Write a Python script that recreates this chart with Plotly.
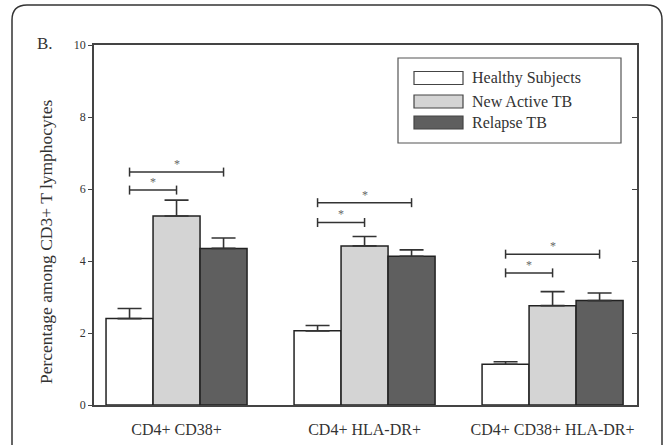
import plotly.graph_objects as go

# ---- data ----
categories = ["CD4+ CD38+", "CD4+ HLA-DR+", "CD4+ CD38+ HLA-DR+"]
series_names = ["Healthy Subjects", "New Active TB", "Relapse TB"]
healthy = [2.40, 2.06, 1.13]
healthy_err = [0.28, 0.15, 0.07]
new_active = [5.25, 4.42, 2.76]
new_active_err = [0.44, 0.26, 0.39]
relapse = [4.35, 4.13, 2.90]
relapse_err = [0.29, 0.18, 0.21]
# significance brackets: (category index, from series, to series, level)
sig_category = [0, 0, 1, 1, 2, 2]
sig_from = [0, 0, 0, 0, 0, 0]
sig_to = [1, 2, 1, 2, 1, 2]
sig_level = [5.97, 6.47, 5.07, 5.62, 3.67, 4.19]
y_ticks = [0, 2, 4, 6, 8, 10]

values = [healthy, new_active, relapse]
errors = [healthy_err, new_active_err, relapse_err]
fills = ["#ffffff", "#d4d4d4", "#5f5f5f"]

FONT = "'Liberation Serif', 'Times New Roman', 'DejaVu Serif', serif"
INK = "#333333"

W, H = 668, 445
ML, MR, MT, MB = 94, 31, 45, 40
PW, PH = W - ML - MR, H - MT - MB


def px(x):
    return (x - ML) / PW


def py(y):
    return (H - MB - y) / PH


fig = go.Figure()
xpos = list(range(len(categories)))
for name, vals, errs, col in zip(series_names, values, errors, fills):
    fig.add_trace(go.Bar(
        x=xpos, y=vals, name=name, showlegend=False,
        marker=dict(color=col, line=dict(color="#222222", width=1.5)),
        error_y=dict(type="data", array=errs, arrayminus=[0] * len(errs),
                     symmetric=False, color="#333333", thickness=1.6, width=12),
    ))

BAR_W = 0.25
shapes = []
annotations = []
for c, f, t, lvl in zip(sig_category, sig_from, sig_to, sig_level):
    x0 = c + (f - 1) * BAR_W
    x1 = c + (t - 1) * BAR_W
    ln = dict(color="#333333", width=1.5)
    shapes.append(dict(type="line", xref="x", yref="y", x0=x0, x1=x1, y0=lvl, y1=lvl, line=ln))
    for xe in (x0, x1):
        shapes.append(dict(type="line", xref="x", yref="y", x0=xe, x1=xe,
                           y0=lvl - 0.125, y1=lvl + 0.125, line=ln))
    annotations.append(dict(x=(x0 + x1) / 2, y=lvl, xref="x", yref="y", text="*",
                            showarrow=False, yanchor="bottom", yshift=-1,
                            font=dict(family=FONT, size=12, color="#666666")))

# outer rounded frame
r = 15
L, R, T, B = 12, 662, 5, 460
path = (f"M {px(L)},{py(B)} L {px(L)},{py(T + r)} Q {px(L)},{py(T)} {px(L + r)},{py(T)} "
        f"L {px(R - r)},{py(T)} Q {px(R)},{py(T)} {px(R)},{py(T + r)} L {px(R)},{py(B)}")
shapes.append(dict(type="path", xref="paper", yref="paper", path=path,
                   line=dict(color="#333333", width=1.5)))

# legend box
shapes.append(dict(type="rect", xref="paper", yref="paper", x0=px(398), x1=px(621),
                   y0=py(143), y1=py(58), line=dict(color="#555555", width=1.2),
                   fillcolor="white", layer="above"))
leg_y = [78, 101.5, 122.5]
for name, col, yc in zip(series_names, fills, leg_y):
    shapes.append(dict(type="rect", xref="paper", yref="paper", x0=px(414), x1=px(463),
                       y0=py(yc + 6.5), y1=py(yc - 6.5),
                       line=dict(color="#444444", width=1.2), fillcolor=col, layer="above"))
    annotations.append(dict(x=px(470), y=py(yc), xref="paper", yref="paper", text=name,
                            showarrow=False, xanchor="left", yanchor="middle",
                            font=dict(family=FONT, size=16, color=INK)))

annotations.append(dict(x=px(35), y=py(43), xref="paper", yref="paper", text="B.",
                        showarrow=False, xanchor="left", yanchor="middle",
                        font=dict(family=FONT, size=17, color=INK)))
annotations.append(dict(x=px(46), y=py(242), xref="paper", yref="paper",
                        text="Percentage among CD3+ T lymphocytes", textangle=-90,
                        showarrow=False, xanchor="center", yanchor="middle",
                        font=dict(family=FONT, size=17.5, color=INK)))

fig.update_layout(
    width=W, height=H, margin=dict(l=ML, r=MR, t=MT, b=MB, autoexpand=False),
    paper_bgcolor="white", plot_bgcolor="white",
    barmode="group", bargap=0.25, bargroupgap=0,
    font=dict(family=FONT, color=INK),
    shapes=shapes, annotations=annotations,
    xaxis=dict(range=[-0.439, 2.449], tickvals=xpos, ticktext=categories,
               showline=True, linecolor="#444444", linewidth=1.5, mirror=True,
               ticks="", showgrid=False, zeroline=False, automargin=False,
               tickfont=dict(family=FONT, size=16, color=INK), ticklabelstandoff=9),
    yaxis=dict(range=[0, 10], tickvals=y_ticks, showline=True, linecolor="#444444",
               linewidth=1.5, mirror=True, ticks="outside", ticklen=4, tickcolor="#444444",
               tickwidth=1.2, showgrid=False, zeroline=False, automargin=False,
               tickfont=dict(family=FONT, size=12, color=INK)),
    yaxis2=dict(range=[0, 10], tickvals=y_ticks, overlaying="y", side="right",
                ticks="inside", ticklen=5, tickcolor="#444444", tickwidth=1.2,
                automargin=False,
                showticklabels=False, showline=False, showgrid=False, zeroline=False),
)
# invisible trace to show right-hand axis
fig.add_trace(go.Scatter(x=[None], y=[None], yaxis="y2", showlegend=False, hoverinfo="skip"))

fig.write_html("out.html", config={"displayModeBar": False},
               post_script="document.body.style.margin='0';")
